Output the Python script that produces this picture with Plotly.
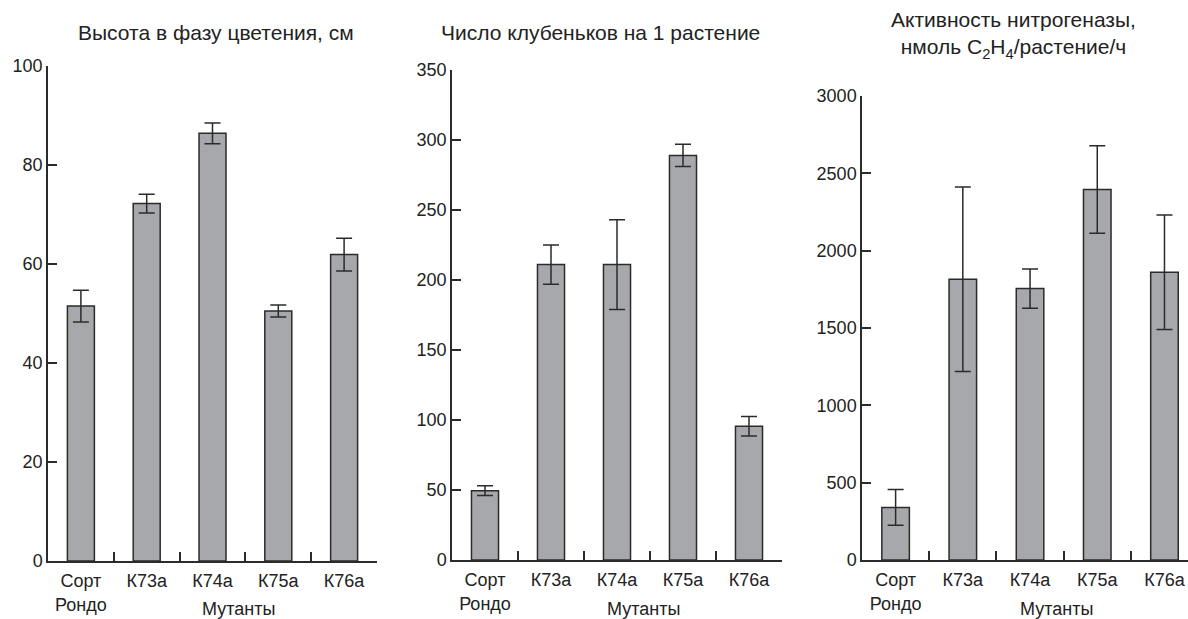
import plotly.graph_objects as go

# Categories shared by all three panels
categories = ["Сорт<br>Рондо", "К73а", "К74а", "К75а", "К76а"]

# Panel 1: plant height at flowering, cm
height_vals = [51.5, 72.2, 86.4, 50.5, 61.9]
height_err = [3.2, 1.9, 2.1, 1.2, 3.3]

# Panel 2: number of nodules per plant
nodule_vals = [49.5, 211, 211, 289, 95.5]
nodule_err = [3.5, 14, 32, 8, 7]

# Panel 3: nitrogenase activity, nmol C2H4 / plant / h
nitro_vals = [340, 1815, 1755, 2395, 1860]
nitro_err = [116, 597, 127, 283, 370]

titles = [
    "Высота в фазу цветения, см",
    "Число клубеньков на 1 растение",
    "Активность нитрогеназы,<br>нмоль C<sub>2</sub>H<sub>4</sub>/растение/ч",
]
x_title = "Мутанты"

W, H = 1188, 619
FONT = "Liberation Sans, Arial, sans-serif"
TXT = "#222222"
BAR_FILL = "#a7a8ab"
LINE = "#2b2b2b"

def px_x(p):
    return p / W

def px_y(p):
    return (H - p) / H

fig = go.Figure()

panels = [
    dict(vals=height_vals, err=height_err, xdom=(48, 377), ydom=(561, 66),
         yrange=[0, 100], dtick=20, xrange=[-0.5, 4.5], title_x=216, title_y=32),
    dict(vals=nodule_vals, err=nodule_err, xdom=(452, 782), ydom=(560, 70),
         yrange=[0, 350], dtick=50, xrange=[-0.5, 4.5], title_x=600, title_y=32),
    dict(vals=nitro_vals, err=nitro_err, xdom=(862, 1188), ydom=(560, 96),
         yrange=[0, 3000], dtick=500, xrange=[-0.5, 4.35], title_x=1014, title_y=35),
]

annotations = []
for i, p in enumerate(panels, start=1):
    sfx = "" if i == 1 else str(i)
    fig.add_trace(go.Bar(
        x=categories, y=p["vals"],
        xaxis="x" + sfx, yaxis="y" + sfx,
        width=0.41,
        marker=dict(color=BAR_FILL, line=dict(color=LINE, width=1.5)),
        error_y=dict(type="data", array=p["err"], color=LINE,
                     thickness=1.5, width=8),
        showlegend=False,
    ))
    xa = dict(
        domain=[px_x(p["xdom"][0]), px_x(p["xdom"][1])],
        anchor="y" + sfx, type="category", range=p["xrange"],
        showline=True, linecolor=LINE, linewidth=1.5,
        ticks="inside", ticklen=9, tickwidth=1.5, tickcolor=LINE,
        tickson="boundaries", showgrid=False, zeroline=False,
        automargin=False, ticklabelstandoff=3,
        tickfont=dict(family=FONT, size=18, color=TXT),
    )
    ya = dict(
        domain=[px_y(p["ydom"][0]), px_y(p["ydom"][1])],
        anchor="x" + sfx, range=p["yrange"], dtick=p["dtick"],
        showline=True, linecolor=LINE, linewidth=1.5,
        ticks="inside", ticklen=9, tickwidth=1.5, tickcolor=LINE,
        showgrid=False, zeroline=False,
        automargin=False,
        tickfont=dict(family=FONT, size=18, color=TXT),
    )
    fig.layout["xaxis" + sfx] = xa
    fig.layout["yaxis" + sfx] = ya

    annotations.append(dict(
        text=titles[i - 1], xref="paper", yref="paper",
        x=px_x(p["title_x"]), y=px_y(p["title_y"]),
        xanchor="center", yanchor="middle", showarrow=False,
        font=dict(family=FONT, size=21, color=TXT),
    ))
    annotations.append(dict(
        text=x_title, xref="x" + sfx, yref="paper",
        x=2.4, y=px_y(609), xanchor="center", yanchor="middle",
        showarrow=False, font=dict(family=FONT, size=18, color=TXT),
    ))

fig.update_layout(
    width=W, height=H,
    margin=dict(l=0, r=0, t=0, b=0, autoexpand=False),
    paper_bgcolor="white", plot_bgcolor="white",
    annotations=annotations,
    bargap=0.5,
)

fig.write_html("out.html")
